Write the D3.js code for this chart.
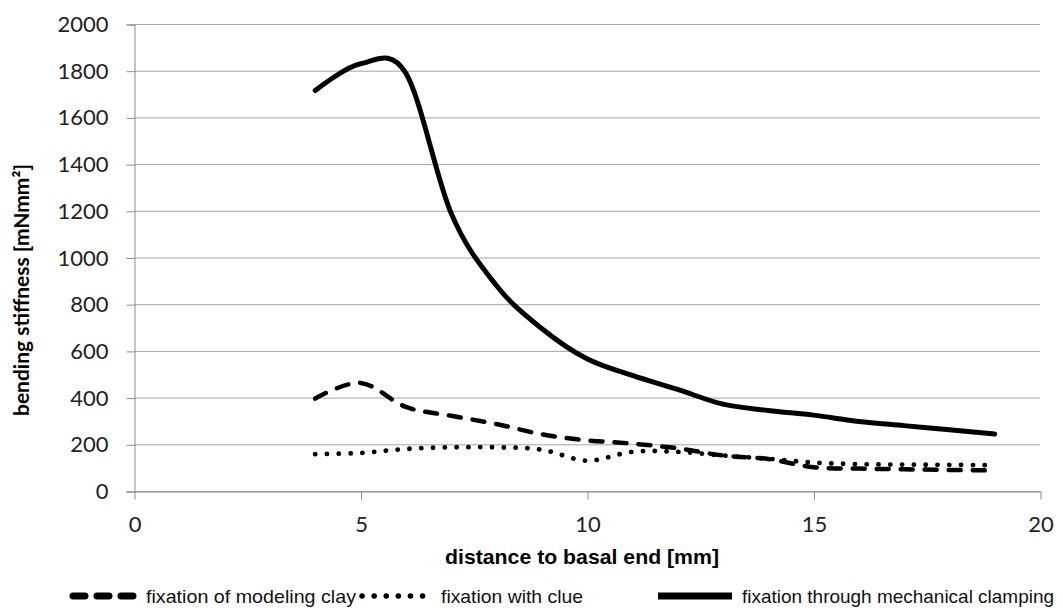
<!DOCTYPE html>
<html>
<head>
<meta charset="utf-8">
<script src="https://cdn.jsdelivr.net/npm/d3@7"></script>
<style>
  body { margin: 0; background: #fff; }
  svg { display: block; }
  .tick text { font-family: Lato, "Open Sans", sans-serif; fill: #222; }
</style>
</head>
<body>
<svg width="1063" height="610"></svg>
<script>
// distance to basal end [mm]
const distance = [4, 5, 6, 7, 8, 9, 10, 11, 12, 13, 14, 15, 16, 17, 18, 19];
// bending stiffness [mNmm²] per fixation method
const clay     = [396, 463, 360, 322, 287, 243, 217, 203, 183, 152, 137, 102, 96, 93, 90, 88];
const clue     = [158, 163, 180, 187, 187, 177, 130, 168, 168, 152, 138, 122, 115, 113, 112, 110];
const clamping = [1715, 1830, 1790, 1190, 880, 696, 566, 495, 435, 372, 345, 325, 298, 280, 262, 244];

const xTicks = [0, 5, 10, 15, 20];
const yTicks = [0, 200, 400, 600, 800, 1000, 1200, 1400, 1600, 1800, 2000];

const seriesNames = ["fixation of modeling clay", "fixation with clue", "fixation through mechanical clamping"];

var svg = d3.select("svg");

const plotLeft = 134, plotRight = 1040, plotTop = 24, plotBottom = 491;

var x = d3.scaleLinear().domain([0, 20]).range([plotLeft, plotRight]);
var y = d3.scaleLinear().domain([0, 2000]).range([plotBottom, plotTop]);

// gridlines
svg.append("g")
  .selectAll("line")
  .data(yTicks)
  .enter()
  .append("line")
    .attr("x1", plotLeft)
    .attr("x2", plotRight)
    .attr("y1", d => y(d) + 0.5)
    .attr("y2", d => y(d) + 0.5)
    .attr("stroke", "#a6a6a6")
    .attr("stroke-width", 1);

// y axis
const gy = svg.append("g")
  .attr("transform", "translate(" + (plotLeft + 0.5) + ",0.5)")
  .call(d3.axisLeft(y).tickValues(yTicks).tickSize(8).tickPadding(18).tickFormat(d3.format("d")));
gy.select(".domain").attr("stroke", "#8c8c8c");
gy.selectAll(".tick line").attr("stroke", "#8c8c8c");
gy.selectAll(".tick text").attr("font-size", 22);

// x axis
const gx = svg.append("g")
  .attr("transform", "translate(0.5," + (plotBottom + 0.5) + ")")
  .call(d3.axisBottom(x).tickValues(xTicks).tickSize(8).tickPadding(17).tickSizeOuter(0));
gx.select(".domain").attr("stroke", "#8c8c8c");
gx.selectAll(".tick line").attr("stroke", "#8c8c8c");
gx.selectAll(".tick text").attr("font-size", 22);

// lines (smoothed like the spreadsheet original)
const line = d3.line()
  .x(d => x(d[0]))
  .y(d => y(d[1]))
  .curve(d3.curveCatmullRom.alpha(0));

const styles = [
  { values: clay, dash: "12,12", width: 4.5 },
  { values: clue, dash: "0.1,11.7", width: 4.8 },
  { values: clamping, dash: null, width: 5 }
];

styles.forEach(s => {
  svg.append("path")
    .datum(distance.map((d, i) => [d, s.values[i]]))
    .attr("d", line)
    .attr("fill", "none")
    .attr("stroke", "#000")
    .attr("stroke-width", s.width)
    .attr("stroke-linecap", "round")
    .attr("stroke-linejoin", "round")
    .attr("stroke-dasharray", s.dash);
});

// axis titles
svg.append("text")
  .attr("transform", "translate(22,290) rotate(-90)")
  .attr("text-anchor", "middle")
  .attr("font-family", "Lato, sans-serif")
  .attr("font-weight", "bold")
  .attr("font-size", 20)
  .attr("textLength", 252)
  .attr("lengthAdjust", "spacingAndGlyphs")
  .attr("dy", "0.35em")
  .text("bending stiffness [mNmm²]");

svg.append("text")
  .attr("x", 582)
  .attr("y", 557)
  .attr("dy", "0.35em")
  .attr("text-anchor", "middle")
  .attr("font-family", "'Liberation Sans Narrow', 'Liberation Sans', Arial, sans-serif")
  .attr("font-weight", "bold")
  .attr("font-size", 21)
  .attr("textLength", 274)
  .attr("lengthAdjust", "spacingAndGlyphs")
  .text("distance to basal end [mm]");

// legend
const legendY = 596;
const legend = [
  { x0: 73, x1: 137, tx: 146, len: 210, dash: "12,12", width: 7, cap: "round" },
  { x0: 362, x1: 425, tx: 441, len: 142, dash: "0.1,12", width: 5.5, cap: "round" },
  { x0: 658, x1: 732, tx: 742, len: 312, dash: null, width: 7, cap: "butt" }
];
legend.forEach((l, i) => {
  svg.append("line")
    .attr("x1", l.x0).attr("x2", l.x1)
    .attr("y1", legendY).attr("y2", legendY)
    .attr("stroke", "#000")
    .attr("stroke-width", l.width)
    .attr("stroke-linecap", l.cap)
    .attr("stroke-dasharray", l.dash);
  svg.append("text")
    .attr("x", l.tx)
    .attr("y", legendY)
    .attr("dy", "0.35em")
    .attr("font-family", "'Liberation Sans Narrow', 'Liberation Sans', Arial, sans-serif")
    .attr("font-size", 19)
    .attr("textLength", l.len)
    .attr("lengthAdjust", "spacingAndGlyphs")
    .attr("fill", "#111")
    .text(seriesNames[i]);
});
</script>
</body>
</html>
